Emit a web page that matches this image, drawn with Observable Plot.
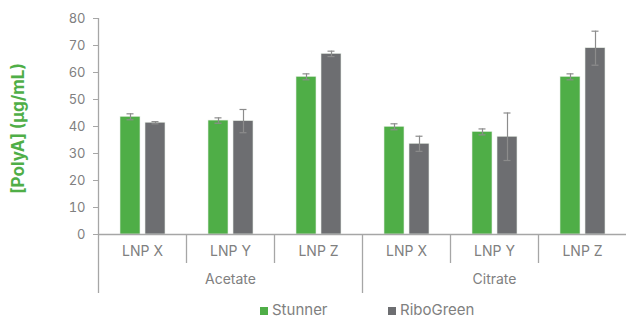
<!DOCTYPE html>
<html>
<head>
<meta charset="utf-8">
<script src="https://cdn.jsdelivr.net/npm/d3@7"></script>
<script src="https://cdn.jsdelivr.net/npm/@observablehq/plot@0.6"></script>
<style>
  html, body { margin: 0; padding: 0; background: #fff; }
  #chart { position: relative; width: 626px; height: 319px; font-family: Inter, sans-serif; overflow: hidden; }
  .legend { position: absolute; top: 303px; height: 14px; line-height: 14px; display: flex; align-items: center; font-size: 15px; color: #808080; }
  .legend span.sw { display: inline-block; width: 8px; height: 8px; margin-right: 4px; margin-top: 1px; }
</style>
</head>
<body>
<div id="chart"></div>
<script>
// ---- data ----
const buffers = ["Acetate", "Citrate"];
const categories = ["LNP X", "LNP Y", "LNP Z"];
const series = ["Stunner", "RiboGreen"];
const stunner = [43.6, 42.2, 58.4, 39.9, 38.0, 58.4];
const stunnerErr = [1.1, 1.0, 1.1, 1.1, 1.1, 1.1];
const riboGreen = [41.4, 42.0, 66.9, 33.6, 36.2, 69.0];
const riboGreenErr = [0.4, 4.3, 1.0, 2.8, 8.8, 6.3];
const yTicks = [0, 10, 20, 30, 40, 50, 60, 70, 80];
const yLabel = "[PolyA] (µg/mL)";
const colors = ["#4fae47", "#6d6e71"];

// ---- build table ----
const keys = buffers.flatMap(b => categories.map(c => `${b}|${c}`));
const rows = [];
keys.forEach((k, i) => {
  rows.push({key: k, series: series[0], value: stunner[i], err: stunnerErr[i]});
  rows.push({key: k, series: series[1], value: riboGreen[i], err: riboGreenErr[i]});
});
const catRows = keys.map(k => ({key: k, cat: k.split("|")[1], groupStart: k.endsWith("|" + categories[0])}));

// layout
const W = 626, H = 300, mL = 98, mR = 0, mT = 18, mB = 66;
const yMin = yTicks[0], yMax = yTicks[yTicks.length - 1];
const facetW = (W - mL - mR) / keys.length;
const pxPerUnit = (H - mT - mB) / (yMax - yMin);
const sepShort = 29 / pxPerUnit, sepLong = 59 / pxPerUnit;
const axisCol = "#a6a6a6", textCol = "#808080";

const chart = Plot.plot({
  width: W, height: H,
  marginLeft: mL, marginRight: mR, marginTop: mT, marginBottom: mB,
  style: {fontFamily: "Inter, sans-serif", background: "white", overflow: "visible"},
  fx: {domain: keys, padding: 0, axis: null},
  x: {domain: series, paddingInner: 0.2, paddingOuter: 0.86, axis: null},
  y: {domain: [yMin, yMax], axis: null},
  color: {domain: series, range: colors},
  marks: [
    Plot.barY(rows, {fx: "key", x: "series", y: "value", fill: "series", stroke: "#e8efe6", strokeWidth: 0.6}),
    Plot.ruleX(rows, {fx: "key", x: "series", y1: d => d.value - d.err, y2: d => d.value + d.err, stroke: "#8c8c8c", strokeWidth: 1.2}),
    Plot.tickY(rows, {fx: "key", x: "series", y: d => d.value + d.err, stroke: "#8c8c8c", strokeWidth: 1.2, insetLeft: 6.5, insetRight: 6.5}),
    Plot.tickY(rows, {fx: "key", x: "series", y: d => d.value - d.err, stroke: "#8c8c8c", strokeWidth: 1.2, insetLeft: 6.5, insetRight: 6.5}),
    Plot.ruleY(keys, {fx: d => d, y: yMin, stroke: axisCol, strokeWidth: 1.3}),
    // separators below the axis (at each facet's left edge)
    Plot.ruleX(catRows, {fx: "key", x: null, y1: yMin, y2: d => d.groupStart ? -sepLong : -sepShort, dx: -facetW / 2, stroke: axisCol, strokeWidth: 1.3}),
    // y axis line
    Plot.ruleX([keys[0]], {fx: d => d, x: null, y1: yMin, y2: yMax, dx: -facetW / 2, stroke: axisCol, strokeWidth: 1.3}),
    Plot.axisY({ticks: yTicks, tickSize: 5, tickPadding: 8, fontSize: 13, label: null, color: textCol, stroke: axisCol}),
    Plot.text(catRows, {fx: "key", text: "cat", frameAnchor: "bottom", dy: 21, fontSize: 14, fill: textCol}),
    Plot.text(buffers, {fx: b => `${b}|${categories[1]}`, text: d => d, frameAnchor: "bottom", dy: 49, fontSize: 14, fill: textCol}),
    Plot.text([keys[0]], {fx: d => d, text: [yLabel], y: (yMin + yMax) / 2, frameAnchor: "left", textAnchor: "middle", rotate: -90, dx: -80, dy: 2, fontSize: 17, fontWeight: "bold", fill: "#4fae47"})
  ]
});
const root = document.getElementById("chart");
root.appendChild(chart);

// legend
const legendLeft = [260, 388];
series.forEach((s, i) => {
  const item = document.createElement("div");
  item.className = "legend";
  item.style.left = legendLeft[i] + "px";
  item.innerHTML = `<span class="sw" style="background:${colors[i]}"></span><span>${s}</span>`;
  root.appendChild(item);
});
</script>
</body>
</html>
